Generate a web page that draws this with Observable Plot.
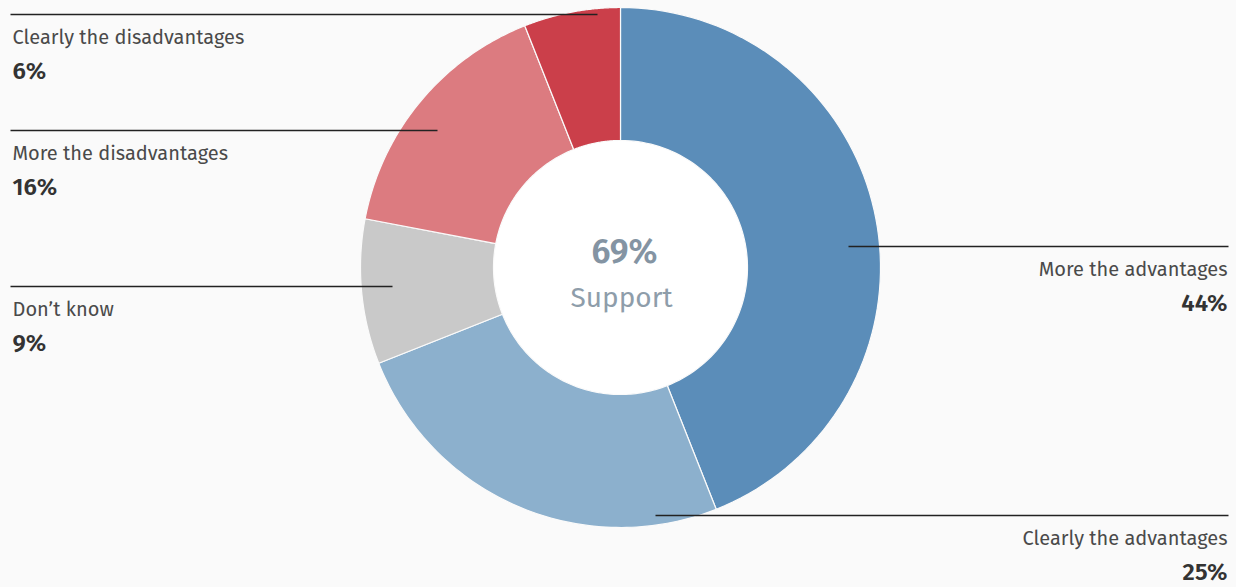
<!DOCTYPE html>
<html>
<head>
<meta charset="utf-8">
<script src="https://cdn.jsdelivr.net/npm/d3@7"></script>
<script src="https://cdn.jsdelivr.net/npm/@observablehq/plot@0.6"></script>
<style>
  html, body { margin: 0; padding: 0; background: #fafafa; }
  #chart svg { display: block; }
</style>
</head>
<body>
<div id="chart"></div>
<script>
// Data
const categories = ["More the advantages", "Clearly the advantages", "Don’t know", "More the disadvantages", "Clearly the disadvantages"];
const values = [44, 25, 9, 16, 6];
const colors = ["#5b8db9", "#8cb0cd", "#c9c9c9", "#dc7b80", "#cb3f4a"];
const centerValue = "69%";
const centerLabel = "Support";

// Layout (pixels)
const W = 1236, H = 587;
const cx = 620, cy = 267, R = 260, r0 = 127;
// leader line: y, inner end x, side
const leaders = [
  {y: 246, x: 848, side: "right"},
  {y: 515, x: 655, side: "right"},
  {y: 286, x: 392, side: "left"},
  {y: 130, x: 437, side: "left"},
  {y: 14,  x: 597, side: "left"}
];

const table = categories.map((c, i) => ({category: c, value: values[i], color: colors[i], ...leaders[i]}));
const pie = d3.pie().sort(null).value(d => d.value)(table);

const poly = [];
pie.forEach(p => {
  const n = 80;
  for (let k = 0; k <= n; k++) {
    const a = p.startAngle + (p.endAngle - p.startAngle) * k / n;
    poly.push({category: p.data.category, x: cx + R * Math.sin(a), y: cy - R * Math.cos(a)});
  }
  for (let k = n; k >= 0; k--) {
    const a = p.startAngle + (p.endAngle - p.startAngle) * k / n;
    poly.push({category: p.data.category, x: cx + r0 * Math.sin(a), y: cy - r0 * Math.cos(a)});
  }
});

const lines = table.map(d => ({
  category: d.category,
  x1: d.x,
  x2: d.side === "right" ? 1228 : 10,
  y: d.y
}));

const labelRows = table.map(d => ({
  category: d.category,
  pct: d.value + "%",
  x: d.side === "right" ? 1227 : 12,
  anchor: d.side === "right" ? "end" : "start",
  y1: d.y + 29,
  y2: d.y + 64
}));

const font = "'Fira Sans', 'Noto Sans', sans-serif";

const chart = Plot.plot({
  width: W,
  height: H,
  margin: 0,
  style: {background: "#fafafa", fontFamily: font, overflow: "visible"},
  x: {domain: [0, W], range: [0, W], axis: null},
  y: {domain: [0, H], range: [0, H], axis: null},
  color: {domain: categories, range: colors},
  marks: [
    Plot.dot([0], {x: () => cx, y: () => cy, r: r0, fill: "#ffffff", stroke: "none"}),
    Plot.line(poly, {x: "x", y: "y", z: "category", fill: "category", stroke: "#fafafa", strokeWidth: 1.2, curve: "linear-closed"}),
    Plot.link(lines, {x1: "x1", x2: "x2", y1: "y", y2: "y", stroke: "#222", strokeWidth: 1.3}),
    Plot.text(labelRows.filter(d => d.anchor === "start"), {x: "x", y: "y1", text: "category", textAnchor: "start", lineAnchor: "bottom", fontSize: 20, fill: "#4a4a4a"}),
    Plot.text(labelRows.filter(d => d.anchor === "end"), {x: "x", y: "y1", text: "category", textAnchor: "end", lineAnchor: "bottom", fontSize: 20, fill: "#4a4a4a"}),
    Plot.text(labelRows.filter(d => d.anchor === "start"), {x: "x", y: "y2", text: "pct", textAnchor: "start", lineAnchor: "bottom", fontSize: 24, fontWeight: 600, fill: "#333"}),
    Plot.text(labelRows.filter(d => d.anchor === "end"), {x: "x", y: "y2", text: "pct", textAnchor: "end", lineAnchor: "bottom", fontSize: 24, fontWeight: 600, fill: "#333"}),
    Plot.text([centerValue], {x: () => cx + 4, y: () => cy - 5, text: d => d, lineAnchor: "bottom", fontSize: 34, fontWeight: 600, fill: "#8494a3"}),
    Plot.text([centerLabel], {x: () => cx + 1, y: () => cy + 39, text: d => d, lineAnchor: "bottom", fontSize: 28, fill: "#8e9daa"})
  ]
});
document.getElementById("chart").appendChild(chart);
</script>
</body>
</html>
